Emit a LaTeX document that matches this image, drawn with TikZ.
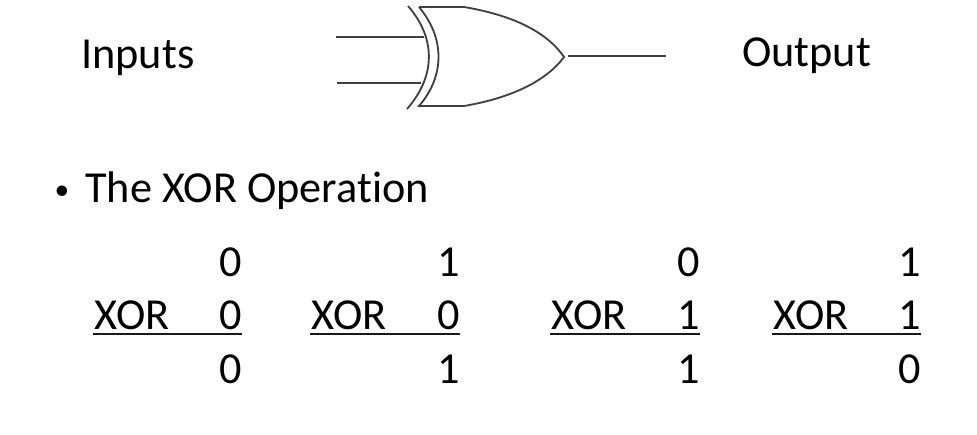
\documentclass[tikz,border=0pt]{standalone}
\usepackage{fontspec}
\setmainfont[Ligatures=NoCommon]{Carlito}
\tikzset{
  label text/.style={inner sep=0pt, font=\fontsize{31.5}{38}\selectfont, text=black},
  gate line/.style={draw=black!75, line width=1.3pt},
  sum line/.style={draw=black!90, line width=1.9pt}
}
\begin{document}
\begin{tikzpicture}[x=0.025cm, y=-0.025cm]
  \useasboundingbox (0,0) rectangle (977,434);

  % Gate
  \draw[gate line] (408,6) .. controls (436,38) and (436,76) .. (407,109); % Back arc
  \draw[gate line] (419,7) -- (464,7)
    .. controls (505,14) and (544,28) .. (564,57)
    .. controls (544,84) and (505,99) .. (464,106) -- (419,106)
    .. controls (445,76) and (445,38) .. (419,7);

  % Wires
  \coordinate (inA) at (336,37);
  \coordinate (inAend) at (424,37);
  \coordinate (inB) at (337,83);
  \coordinate (inBend) at (421,83);
  \coordinate (outStart) at (568,56);
  \coordinate (outEnd) at (666,56);
  \draw[gate line] (inA) -- (inAend);
  \draw[gate line] (inB) -- (inBend);
  \draw[gate line] (outStart) -- (outEnd);

  \node[label text, anchor=base west] (inputs) at (81,68) {Inputs};
  \node[label text, anchor=base west] (output) at (742,66) {Output};

  % Bullet line
  \node[label text, font=\fontsize{21}{26}\selectfont, anchor=base] (bullet) at (62,199) {•};
  \node[label text, anchor=base west] (title) at (85,202) {The XOR Operation};

  % Truth columns
  \foreach \n/\xl/\xr/\a/\b/\c in {1/94/242/0/0/0, 2/311/460/1/0/1, 3/551/700/0/1/1, 4/773/921/1/1/0} {
      \node[label text, anchor=base east] (top\n) at (\xr,276) {\a};
      \node[label text, anchor=base east] (mid\n) at (\xr,329) {\b};
      \node[label text, anchor=base west] (xor\n) at (\xl,329) {XOR};
      \node[label text, anchor=base east] (res\n) at (\xr,383) {\c};
      \coordinate (ruleA\n) at (\xl-1,334);
      \coordinate (ruleB\n) at (\xr,334);
      \draw[sum line] (ruleA\n) -- (ruleB\n);
    }
\end{tikzpicture}
\end{document}
